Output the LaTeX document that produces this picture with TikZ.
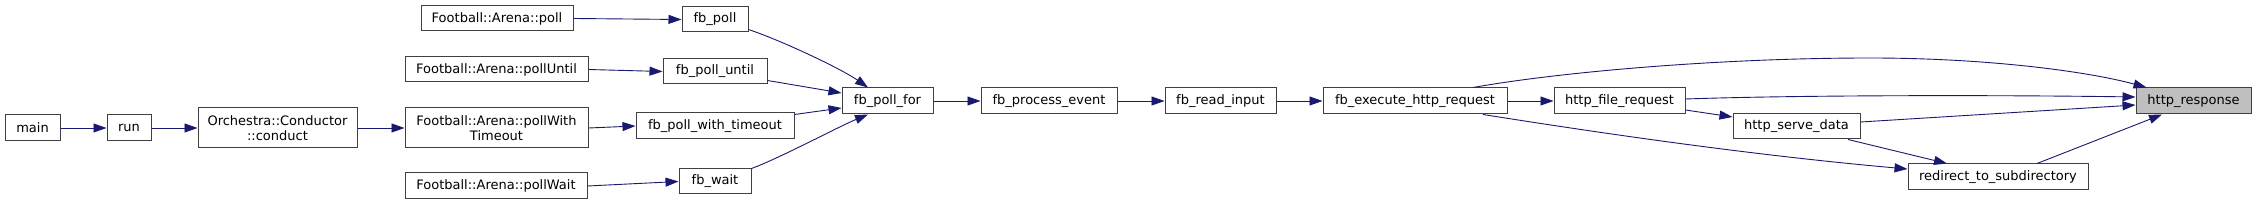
\documentclass[tikz,border=0pt]{standalone}
\usepackage{fontspec}
\setmainfont{DejaVu Sans}
\usetikzlibrary{arrows.meta,calc}
\definecolor{edgeblue}{HTML}{191970}
\definecolor{boxline}{HTML}{404040}
\definecolor{hilite}{HTML}{BFBFBF}
\begin{document}
\begin{tikzpicture}[x=1pt,y=-1pt,
  fnbox/.style={draw=boxline,line width=1pt,fill=white,inner sep=0pt,
    minimum height=26pt,align=center,font=\fontsize{13}{15}\selectfont},
  edge/.style={draw=edgeblue,line width=0.9pt,
    -{Triangle[length=13pt,width=9pt]}}]
\useasboundingbox (0,0) rectangle (2256,205);
% nodes
\node[fnbox,minimum width=55pt] (main) at (32.5,128) {main};
\node[fnbox,minimum width=44pt] (run) at (129,128) {run};
\node[fnbox,minimum width=159pt,minimum height=40pt] (conduct) at (277.5,128) {Orchestra::Conductor\\::conduct};
\node[fnbox,minimum width=152pt,minimum height=25pt] (apoll) at (497,18.5) {Football::Arena::poll};
\node[fnbox,minimum width=66pt,minimum height=25pt] (fbpoll) at (715,19.5) {fb\_poll};
\node[fnbox,minimum width=183pt,minimum height=25pt] (auntil) at (496.5,69.5) {Football::Arena::pollUntil};
\node[fnbox,minimum width=104pt,minimum height=25pt] (fbuntil) at (715,71.5) {fb\_poll\_until};
\node[fnbox,minimum width=183pt,minimum height=40pt] (atimeout) at (496.5,128) {Football::Arena::pollWith\\Timeout};
\node[fnbox,minimum width=158pt] (fbtimeout) at (715,126) {fb\_poll\_with\_timeout};
\node[fnbox,minimum width=182pt] (await) at (496,186) {Football::Arena::pollWait};
\node[fnbox,minimum width=72pt,minimum height=25pt] (fbwait) at (715,181.5) {fb\_wait};
\node[fnbox,minimum width=91pt] (fbpollfor) at (887.5,101) {fb\_poll\_for};
\node[fnbox,minimum width=136pt] (fbprocess) at (1049,101) {fb\_process\_event};
\node[fnbox,minimum width=111pt] (fbread) at (1220.5,101) {fb\_read\_input};
\node[fnbox,minimum width=184pt] (fbexec) at (1415,101) {fb\_execute\_http\_request};
\node[fnbox,minimum width=131pt] (filereq) at (1619.5,101) {http\_file\_request};
\node[fnbox,minimum width=127pt,minimum height=25pt] (serve) at (1796.5,126.5) {http\_serve\_data};
\node[fnbox,minimum width=115pt,fill=hilite] (resp) at (2193.5,101) {http\_response};
\node[fnbox,minimum width=180pt] (redir) at (1998,177) {redirect\_to\_subdirectory};
% edges
\draw[edge] (main) -- (run);
\draw[edge] (run) -- (conduct);
\draw[edge] (conduct) -- (atimeout);
\draw[edge] (apoll.east) -- (fbpoll.west);
\draw[edge] (auntil.east) -- (fbuntil.west);
\draw[edge] (atimeout.east) -- (fbtimeout.west);
\draw[edge] (await.east) -- (fbwait.west);
\draw[edge] ($(fbpoll.south east)+(0,-3)$) .. controls (780,40) and (840,68) .. ($(fbpollfor.north)+(-19.5,0)$);
\draw[edge] ($(fbuntil.south east)+(0,-4)$) -- ($(fbpollfor.west)+(0,-8)$);
\draw[edge] ($(fbtimeout.north east)+(0,2)$) -- ($(fbpollfor.west)+(0,7)$);
\draw[edge] ($(fbwait.north east)$) .. controls (780,158) and (840,126) .. ($(fbpollfor.south)+(-19.5,0)$);
\draw[edge] (fbpollfor) -- (fbprocess);
\draw[edge] (fbprocess) -- (fbread);
\draw[edge] (fbread) -- (fbexec);
\draw[edge] (fbexec) -- (filereq);
\draw[edge] ($(fbexec.north)+(58,0)$) .. controls (1560,72) and (1720,58) .. (1870,58)
  .. controls (1990,58) and (2090,72) .. ($(resp.north west)+(11,0)$);
\draw[edge] ($(fbexec.south)+(68,0)$) .. controls (1600,133) and (1750,155) .. ($(redir.west)+(0,-8)$);
\draw[edge] ($(filereq.east)+(0,-2)$) .. controls (1800,95) and (2000,95) .. ($(resp.west)+(0,-4)$);
\draw[edge] ($(filereq.east)+(0,9)$) -- ($(serve.west)+(0,-9.5)$);
\draw[edge] ($(serve.east)+(0,-4.5)$) -- ($(resp.west)+(0,4)$);
\draw[edge] ($(serve.south)+(51.5,0)$) -- ($(redir.north)+(-51,0)$);
\draw[edge] ($(redir.north)+(39,0)$) -- ($(resp.south)+(-31.5,0)$);
\end{tikzpicture}
\end{document}
